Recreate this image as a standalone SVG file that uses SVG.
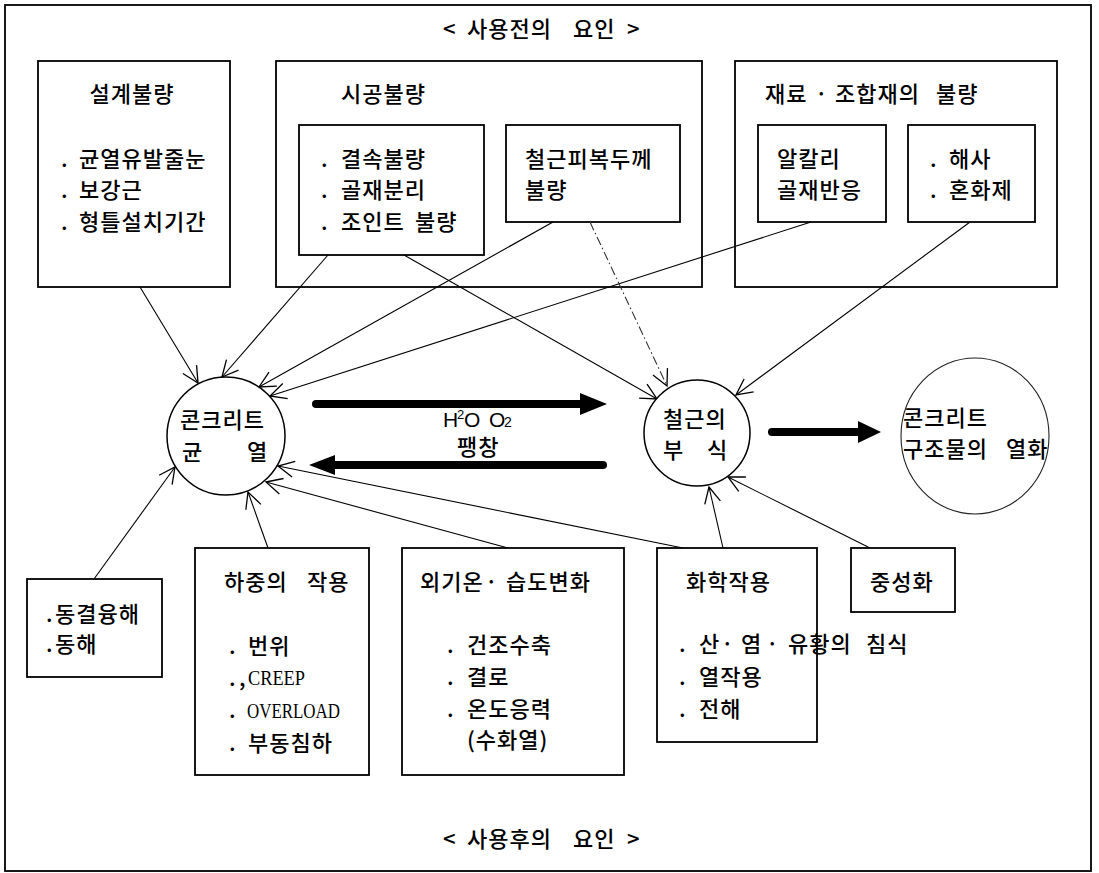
<svg xmlns="http://www.w3.org/2000/svg" width="1099" height="873" viewBox="0 0 1099 873">
<style>
.t{font-family:"Noto Sans CJK KR","Noto Sans",sans-serif;font-size:22px;font-weight:500;fill:#000;letter-spacing:1px}
.m{text-anchor:middle}
.lat{font-family:"Liberation Serif",serif;font-size:21px;fill:#000}
.h2o{font-family:"Liberation Sans",sans-serif;fill:#000}
.box{fill:#fff;stroke:#000;stroke-width:1.8}
.c{fill:#fff;stroke:#000;stroke-width:1.5}
.ln{fill:none;stroke:#000;stroke-width:1.1;marker-end:url(#v)}
.dd{stroke-dasharray:9 3 1.5 3;stroke:#333}
.thick{stroke:#000;stroke-width:8;stroke-linecap:round}
</style>
<defs>
<marker id="v" viewBox="-17 -10 19 20" refX="0" refY="0" markerWidth="19" markerHeight="20" markerUnits="userSpaceOnUse" orient="auto">
<path d="M-16,-8 L0,0 L-16,8" fill="none" stroke="#000" stroke-width="1.3"/>
</marker>
</defs>
<rect x="0" y="0" width="1099" height="873" fill="#fff"/>
<rect x="5" y="5" width="1086" height="866" fill="none" stroke="#000" stroke-width="1.8"/>

<g id="title-top">
<text class="t" y="37"><tspan x="443">&lt;</tspan><tspan x="467">사용전의</tspan><tspan x="573">요인</tspan><tspan x="627">&gt;</tspan></text>
</g>
<g id="title-bottom">
<text class="t" y="847"><tspan x="443">&lt;</tspan><tspan x="467">사용후의</tspan><tspan x="573">요인</tspan><tspan x="627">&gt;</tspan></text>
</g>

<g id="design">
<rect class="box" x="38" y="61" width="192" height="226"/>
<text class="t m" x="132" y="102">설계불량</text>
<text class="t" y="167"><tspan x="61">.</tspan><tspan x="79">균열유발줄눈</tspan></text>
<text class="t" y="198"><tspan x="61">.</tspan><tspan x="79">보강근</tspan></text>
<text class="t" y="230"><tspan x="61">.</tspan><tspan x="79">형틀설치기간</tspan></text>
</g>

<g id="construction">
<rect class="box" x="276" y="61" width="426" height="226"/>
<text class="t" x="341" y="102">시공불량</text>
<g id="construction-a">
<rect class="box" x="299" y="125" width="185" height="130"/>
<text class="t" y="167"><tspan x="321">.</tspan><tspan x="341">결속불량</tspan></text>
<text class="t" y="198"><tspan x="321">.</tspan><tspan x="341">골재분리</tspan></text>
<text class="t" y="230"><tspan x="321">.</tspan><tspan x="341">조인트</tspan><tspan x="415">불량</tspan></text>
</g>
<g id="construction-b">
<rect class="box" x="506" y="125" width="174" height="97"/>
<text class="t" x="525" y="167">철근피복두께</text>
<text class="t" x="525" y="198">불량</text>
</g>
</g>

<g id="material">
<rect class="box" x="735" y="61" width="322" height="226"/>
<text class="t" y="102"><tspan x="765">재료</tspan><tspan x="815">·</tspan><tspan x="835">조합재의</tspan><tspan x="936">불량</tspan></text>
<g id="material-a">
<rect class="box" x="758" y="125" width="128" height="97"/>
<text class="t" x="777" y="167">알칼리</text>
<text class="t" x="777" y="198">골재반응</text>
</g>
<g id="material-b">
<rect class="box" x="908" y="125" width="127" height="97"/>
<text class="t" y="167"><tspan x="930">.</tspan><tspan x="949">해사</tspan></text>
<text class="t" y="198"><tspan x="930">.</tspan><tspan x="949">혼화제</tspan></text>
</g>
</g>

<g id="connectors">
<line class="ln" x1="140" y1="287" x2="198" y2="383"/>
<line class="ln" x1="328" y1="255" x2="222" y2="377"/>
<line class="ln" x1="553" y1="222" x2="259" y2="387"/>
<line class="ln" x1="811" y1="222" x2="270" y2="396"/>
<line class="ln" x1="404" y1="255" x2="657" y2="399"/>
<line class="ln dd" x1="590" y1="222" x2="667" y2="386"/>
<line class="ln" x1="970" y1="222" x2="736" y2="395"/>
<line class="ln" x1="94" y1="579" x2="175" y2="467"/>
<line class="ln" x1="268" y1="548" x2="248" y2="492"/>
<line class="ln" x1="508" y1="548" x2="266" y2="482"/>
<line class="ln" x1="683" y1="548" x2="278" y2="466"/>
<line class="ln" x1="723" y1="548" x2="709" y2="487"/>
<line class="ln" x1="870" y1="548" x2="728" y2="477"/>
<line class="thick" x1="316" y1="404" x2="584" y2="404"/>
<polygon points="580,393 607,404 580,415" fill="#000"/>
<line class="thick" x1="603" y1="465" x2="332" y2="465"/>
<polygon points="335,455 309,465 335,475" fill="#000"/>
<line class="thick" x1="772" y1="432" x2="861" y2="432"/>
<polygon points="858,421 881,432 858,443" fill="#000"/>
</g>

<g id="arrow-labels">
<text class="h2o" y="427"><tspan x="443" font-size="21">H</tspan><tspan x="457" font-size="13" dy="-8">2</tspan><tspan x="464" font-size="21" dy="8">O</tspan><tspan x="489" font-size="21">O</tspan><tspan x="504" font-size="14">2</tspan></text>
<text class="t" x="457" y="455">팽창</text>
</g>

<g id="crack">
<circle class="c" cx="226" cy="436" r="59"/>
<text class="t" x="180" y="428">콘크리트</text>
<text class="t" y="460"><tspan x="182">균</tspan><tspan x="247">열</tspan></text>
</g>

<g id="corrosion">
<circle class="c" cx="697" cy="433" r="53"/>
<text class="t" x="663" y="427">철근의</text>
<text class="t" y="458"><tspan x="663">부</tspan><tspan x="707">식</tspan></text>
</g>

<g id="deterioration">
<ellipse cx="975" cy="436" rx="74" ry="78" fill="none" stroke="#222" stroke-width="1.1"/>
<text class="t" x="903" y="426">콘크리트</text>
<text class="t" y="457"><tspan x="903">구조물의</tspan><tspan x="1006">열화</tspan></text>
</g>

<g id="freeze">
<rect class="box" x="27" y="579" width="135" height="98"/>
<text class="t" y="622"><tspan x="46">.</tspan><tspan x="55">동결융해</tspan></text>
<text class="t" y="652"><tspan x="46">.</tspan><tspan x="55">동해</tspan></text>
</g>

<g id="load">
<rect class="box" x="195" y="548" width="174" height="227"/>
<text class="t" y="590"><tspan x="224">하중의</tspan><tspan x="307">작용</tspan></text>
<text class="t" y="654"><tspan x="229">.</tspan><tspan x="248">번위</tspan></text>
<text class="t" y="686"><tspan x="229">.</tspan><tspan x="239">,</tspan></text>
<text class="lat" x="248" y="685" textLength="57" lengthAdjust="spacingAndGlyphs">CREEP</text>
<text class="t" x="229" y="718">.</text>
<text class="lat" x="247" y="718" textLength="93" lengthAdjust="spacingAndGlyphs">OVERLOAD</text>
<text class="t" y="751"><tspan x="229">.</tspan><tspan x="248">부동침하</tspan></text>
</g>

<g id="weather">
<rect class="box" x="402" y="548" width="222" height="227"/>
<text class="t" y="590"><tspan x="420">외기온</tspan><tspan x="485">·</tspan><tspan x="506">습도변화</tspan></text>
<text class="t" y="653"><tspan x="447">.</tspan><tspan x="467">건조수축</tspan></text>
<text class="t" y="685"><tspan x="447">.</tspan><tspan x="467">결로</tspan></text>
<text class="t" y="717"><tspan x="447">.</tspan><tspan x="467">온도응력</tspan></text>
<text class="t" x="467" y="748">(수화열)</text>
</g>

<g id="chemical">
<rect class="box" x="657" y="548" width="160" height="194"/>
<text class="t" x="686" y="590">화학작용</text>
<text class="t" y="652"><tspan x="679">.</tspan><tspan x="699">산</tspan><tspan x="721">·</tspan><tspan x="741">염</tspan><tspan x="766">·</tspan><tspan x="788">유황의</tspan><tspan x="866">침식</tspan></text>
<text class="t" y="685"><tspan x="679">.</tspan><tspan x="699">열작용</tspan></text>
<text class="t" y="717"><tspan x="679">.</tspan><tspan x="699">전해</tspan></text>
</g>

<g id="carbonation">
<rect class="box" x="851" y="548" width="104" height="64"/>
<text class="t" x="870" y="590">중성화</text>
</g>
</svg>
